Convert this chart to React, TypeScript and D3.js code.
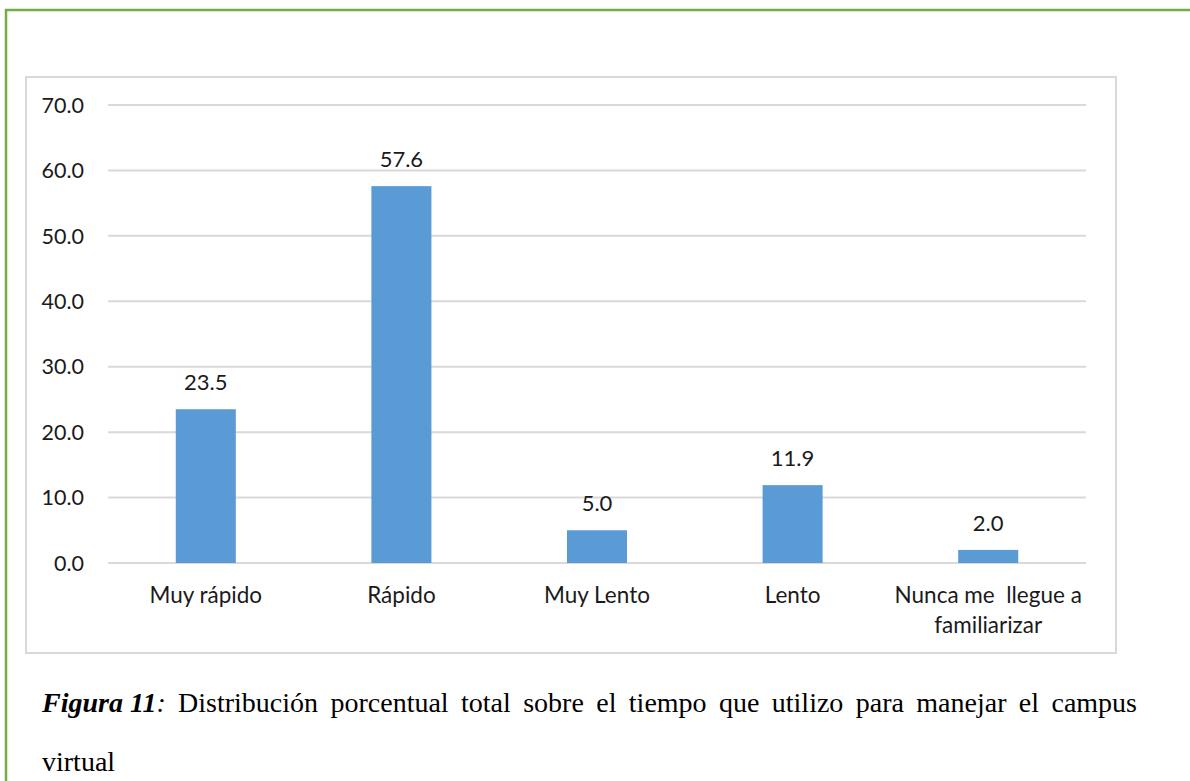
import React, { useEffect, useRef } from 'react';
import * as d3 from 'd3';

const categories = ['Muy rápido', 'Rápido', 'Muy Lento', 'Lento', 'Nunca me  llegue a\nfamiliarizar'];
const values = [23.5, 57.6, 5.0, 11.9, 2.0];
const yTicks = [0, 10, 20, 30, 40, 50, 60, 70];
const captionLine1 = ['Distribución', 'porcentual', 'total', 'sobre', 'el', 'tiempo', 'que', 'utilizo', 'para', 'manejar', 'el', 'campus'];
const captionLine2 = 'virtual';

const App: React.FC = () => {
  const svgRef = useRef<SVGSVGElement>(null);

  useEffect(() => {
    if (!svgRef.current) return;
    document.body.style.margin = '0';

    const svg = d3.select(svgRef.current);
    svg.selectAll('*').remove();

    const W = 1190;
    const H = 781;
    svg.attr('width', W).attr('height', H);

    // green frame (runs off right and bottom)
    svg.append('rect')
      .attr('x', 6).attr('y', 10)
      .attr('width', 1300).attr('height', 900)
      .attr('fill', 'none')
      .attr('stroke', '#70AD47')
      .attr('stroke-width', 2.5);

    // chart area box
    svg.append('rect')
      .attr('x', 26).attr('y', 77)
      .attr('width', 1090).attr('height', 576)
      .attr('fill', '#fff')
      .attr('stroke', '#D9D9D9')
      .attr('stroke-width', 2);

    const left = 108, right = 1086, top = 105, bottom = 563;
    const font = 'Lato, "Noto Sans", sans-serif';

    const x = d3.scaleBand()
      .domain(categories)
      .range([left, right])
      .paddingInner(0.693)
      .paddingOuter(0.3465);

    const y = d3.scaleLinear().domain([0, 70]).range([bottom, top]);

    // gridlines
    svg.append('g')
      .selectAll('line')
      .data(yTicks)
      .enter()
      .append('line')
      .attr('x1', left).attr('x2', right)
      .attr('y1', d => y(d)).attr('y2', d => y(d))
      .attr('stroke', '#D9D9D9')
      .attr('stroke-width', 2);

    // y labels
    svg.append('g')
      .selectAll('text')
      .data(yTicks)
      .enter()
      .append('text')
      .attr('x', 84)
      .attr('y', d => y(d))
      .attr('dy', '0.36em')
      .attr('text-anchor', 'end')
      .style('font-family', font)
      .style('font-size', '21.5px')
      .style('fill', '#1a1a1a')
      .text(d => d.toFixed(1));

    // bars
    svg.append('g')
      .selectAll('rect')
      .data(values)
      .enter()
      .append('rect')
      .attr('x', (d, i) => x(categories[i]) || 0)
      .attr('y', d => y(d))
      .attr('width', x.bandwidth())
      .attr('height', d => bottom - y(d))
      .attr('fill', '#5B9BD5');

    // value labels
    svg.append('g')
      .selectAll('text')
      .data(values)
      .enter()
      .append('text')
      .attr('x', (d, i) => (x(categories[i]) || 0) + x.bandwidth() / 2)
      .attr('y', d => y(d) - 19)
      .attr('text-anchor', 'middle')
      .style('font-family', font)
      .style('font-size', '22px')
      .style('fill', '#1a1a1a')
      .text(d => d.toFixed(1));

    // category labels
    const cat = svg.append('g')
      .selectAll('text')
      .data(categories)
      .enter()
      .append('text')
      .attr('text-anchor', 'middle')
      .style('font-family', font)
      .style('font-size', '22.5px')
      .style('fill', '#1a1a1a')
      .style('white-space', 'pre');

    cat.each(function (d) {
      const cx = (x(d) || 0) + x.bandwidth() / 2;
      d.split('\n').forEach((line, j) => {
        d3.select(this).append('tspan')
          .attr('x', cx)
          .attr('y', 603 + j * 30)
          .text(line);
      });
    });

    // caption, justified first line
    const serif = '"Liberation Serif", "Times New Roman", serif';
    const capSize = '28px';
    const capLeft = 42, capRight = 1137, capBase1 = 712, capBase2 = 771;

    const cap = svg.append('g')
      .style('font-family', serif)
      .style('font-size', capSize)
      .style('fill', '#000');

    const first = cap.append('text').attr('y', capBase1);
    first.append('tspan').style('font-weight', 'bold').style('font-style', 'italic').text('Figura 11');
    first.append('tspan').style('font-style', 'italic').text(':');

    const words = captionLine1.map(w => cap.append('text').attr('y', capBase1).text(w));
    const widths = [(first.node() as SVGTextElement).getComputedTextLength(),
      ...words.map(w => (w.node() as SVGTextElement).getComputedTextLength())];
    const total = d3.sum(widths);
    const gap = (capRight - capLeft - total) / (widths.length - 1);
    let cx = capLeft;
    first.attr('x', cx);
    cx += widths[0] + gap;
    words.forEach((w, i) => {
      w.attr('x', cx);
      cx += widths[i + 1] + gap;
    });

    cap.append('text')
      .attr('x', capLeft)
      .attr('y', capBase2)
      .text(captionLine2);
  }, []);

  return (
    <div>
      <svg ref={svgRef} style={{ display: 'block' }}></svg>
    </div>
  );
};

export default App;
